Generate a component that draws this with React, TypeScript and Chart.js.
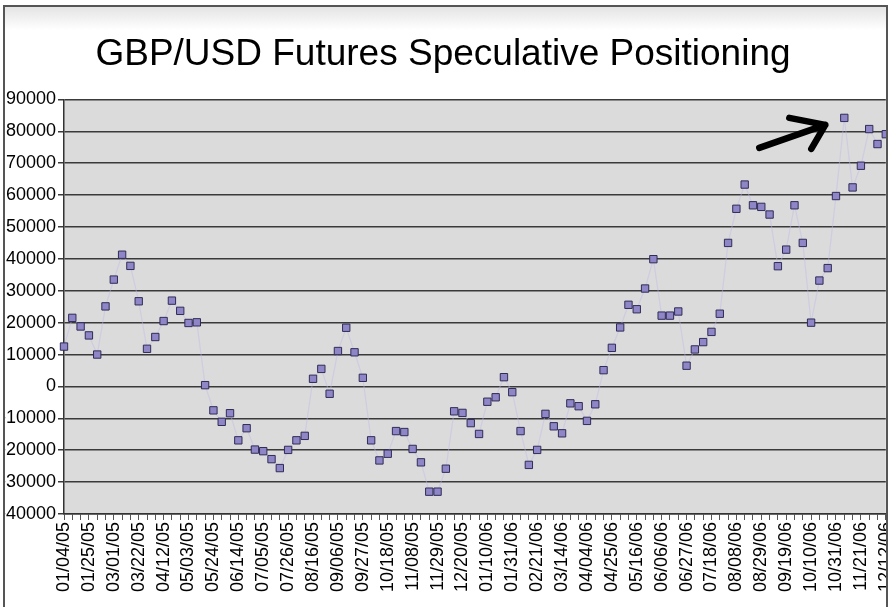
import React, { useEffect, useRef } from "react";
import { Chart, registerables } from "chart.js";

Chart.register(...registerables);

const TITLE = "GBP/USD Futures Speculative Positioning";

const dates: string[] = [
  "01/04/05", "01/11/05", "01/18/05", "01/25/05", "02/01/05", "02/15/05",
  "03/01/05", "03/08/05", "03/15/05", "03/22/05", "03/29/05", "04/05/05",
  "04/12/05", "04/19/05", "04/26/05", "05/03/05", "05/10/05", "05/17/05",
  "05/24/05", "05/31/05", "06/07/05", "06/14/05", "06/21/05", "06/28/05",
  "07/05/05", "07/12/05", "07/19/05", "07/26/05", "08/02/05", "08/09/05",
  "08/16/05", "08/23/05", "08/30/05", "09/06/05", "09/13/05", "09/20/05",
  "09/27/05", "10/04/05", "10/11/05", "10/18/05", "10/25/05", "11/01/05",
  "11/08/05", "11/15/05", "11/22/05", "11/29/05", "12/06/05", "12/13/05",
  "12/20/05", "12/27/05", "01/03/06", "01/10/06", "01/17/06", "01/24/06",
  "01/31/06", "02/07/06", "02/14/06", "02/21/06", "02/28/06", "03/07/06",
  "03/14/06", "03/21/06", "03/28/06", "04/04/06", "04/11/06", "04/18/06",
  "04/25/06", "05/02/06", "05/09/06", "05/16/06", "05/23/06", "05/30/06",
  "06/06/06", "06/13/06", "06/20/06", "06/27/06", "07/04/06", "07/11/06",
  "07/18/06", "07/25/06", "08/01/06", "08/08/06", "08/15/06", "08/22/06",
  "08/29/06", "09/05/06", "09/12/06", "09/19/06", "09/26/06", "10/03/06",
  "10/10/06", "10/17/06", "10/24/06", "10/31/06", "11/07/06", "11/14/06",
  "11/21/06", "11/28/06", "12/05/06", "12/12/06",
];

const netPositions: number[] = [
  12500, 21500, 18800, 16000, 10000, 25100, 33500, 41300, 37800, 26700,
  11800, 15500, 20500, 26900, 23700, 19900, 20100, 400, -7500, -11100,
  -8400, -16900, -13100, -19800, -20300, -22800, -25600, -19900, -16900, -15500,
  2400, 5500, -2300, 11100, 18400, 10700, 2700, -16900, -23200, -21100,
  -14000, -14300, -19600, -23800, -33000, -33000, -25800, -7800, -8300, -11500,
  -14900, -4800, -3400, 2900, -1800, -14000, -24600, -19900, -8600, -12500,
  -14700, -5300, -6200, -10800, -5600, 5100, 12100, 18500, 25600, 24200,
  30700, 39900, 22200, 22200, 23500, 6500, 11600, 13900, 17100, 22800,
  45000, 55700, 63300, 56800, 56300, 53900, 37700, 42900, 56800, 45000,
  20000, 33200, 37100, 59700, 84200, 62400, 69200, 80700, 76000, 79100,
];

const Y_MIN = -40000;
const Y_MAX = 90000;
const Y_STEP = 10000;
const LABEL_EVERY = 3;

const FONT = "'Liberation Sans', Arial, sans-serif";

const decorPlugin = {
  id: "decor",
  beforeDraw(chart: any) {
    const { ctx, chartArea, width, height } = chart;
    ctx.save();
    ctx.fillStyle = "#ffffff";
    ctx.fillRect(0, 0, width, height);
    const g = ctx.createLinearGradient(0, 7, 0, 30);
    g.addColorStop(0, "#e4e4e4");
    g.addColorStop(1, "#ffffff");
    ctx.fillStyle = g;
    ctx.fillRect(5, 7, width - 10, 23);
    ctx.fillStyle = "#dbdbdb";
    ctx.fillRect(chartArea.left, chartArea.top, chartArea.right - chartArea.left, chartArea.bottom - chartArea.top);
    ctx.restore();
  },
  afterDatasetsDraw(chart: any) {
    const { ctx } = chart;
    const xs = chart.scales.x;
    const ys = chart.scales.y;
    let maxIdx = 0;
    netPositions.forEach((v, i) => {
      if (v > netPositions[maxIdx]) maxIdx = i;
    });
    const px = xs.getPixelForValue(maxIdx);
    const py = ys.getPixelForValue(netPositions[maxIdx]);
    const tx = px - 19;
    const ty = py + 7;
    ctx.save();
    ctx.strokeStyle = "#000";
    ctx.lineWidth = 6.5;
    ctx.lineCap = "round";
    ctx.lineJoin = "round";
    ctx.beginPath();
    ctx.moveTo(tx - 66, ty + 23);
    ctx.lineTo(tx, ty);
    ctx.moveTo(tx - 36, ty - 7);
    ctx.lineTo(tx, ty);
    ctx.lineTo(tx - 14, ty + 24);
    ctx.stroke();
    ctx.restore();
  },
  afterDraw(chart: any) {
    const { ctx, width, height } = chart;
    ctx.save();
    ctx.fillStyle = "#ffffff";
    ctx.fillRect(0, 0, 4, height);
    ctx.fillRect(0, 0, width, 5);
    ctx.strokeStyle = "#555";
    ctx.lineWidth = 2;
    ctx.beginPath();
    ctx.moveTo(4, height);
    ctx.lineTo(4, 6);
    ctx.lineTo(887, 6);
    ctx.lineTo(887, height);
    ctx.stroke();
    ctx.fillStyle = "#ffffff";
    ctx.fillRect(888, 0, width - 888, height);
    ctx.restore();
  },
};

export default function App() {
  const ref = useRef<HTMLCanvasElement | null>(null);

  useEffect(() => {
    if (!ref.current) return;
    const chart = new Chart(ref.current, {
      type: "line",
      data: {
        labels: dates,
        datasets: [
          {
            label: "Net speculative position",
            data: netPositions,
            borderColor: "rgba(190,186,232,0.45)",
            borderWidth: 1.2,
            pointStyle: "rect",
            pointRadius: 5.2,
            pointHoverRadius: 5.2,
            pointBackgroundColor: "#8e86c6",
            pointBorderColor: "#2f2c57",
            pointBorderWidth: 1,
            tension: 0,
            clip: false as any,
          },
        ],
      },
      options: {
        animation: false,
        responsive: true,
        maintainAspectRatio: false,
        layout: { padding: { left: 0, right: 6, top: 0, bottom: 0 } },
        plugins: {
          legend: { display: false },
          tooltip: { enabled: false },
          title: {
            display: true,
            text: TITLE,
            color: "#000",
            font: { family: FONT, size: 37, weight: "normal" as any },
            padding: { top: 33, bottom: 22 },
          },
        },
        scales: {
          x: {
            type: "category",
            offset: false,
            grid: {
              drawOnChartArea: false,
              drawTicks: true,
              tickLength: 6,
              color: "#555",
              lineWidth: 1,
            },
            border: { display: true, color: "#333", width: 1.5 },
            ticks: {
              autoSkip: false,
              maxRotation: 90,
              minRotation: 90,
              padding: 2,
              color: "#000",
              font: { family: FONT, size: 18 },
              callback: (_v: any, i: number) => (i % LABEL_EVERY === 0 ? dates[i] : ""),
            },
            afterFit: (s: any) => {
              s.height = 93;
              s.paddingLeft = 0;
              s.paddingRight = 0;
            },
          },
          y: {
            min: Y_MIN,
            max: Y_MAX,
            grid: {
              color: "#3a3a3a",
              lineWidth: 1.5,
              tickLength: 6,
            },
            border: { display: true, color: "#333", width: 1.5 },
            ticks: {
              stepSize: Y_STEP,
              padding: 2,
              color: "#000",
              font: { family: FONT, size: 18 },
              callback: (v: any) => `${v}`,
            },
            afterFit: (s: any) => {
              s.width = 64;
            },
          },
        },
      },
      plugins: [decorPlugin],
    });
    return () => chart.destroy();
  }, []);

  return (
    <div style={{ position: "fixed", left: 0, top: 0, width: 892, height: 607, background: "#fff" }}>
      <canvas ref={ref} />
    </div>
  );
}
